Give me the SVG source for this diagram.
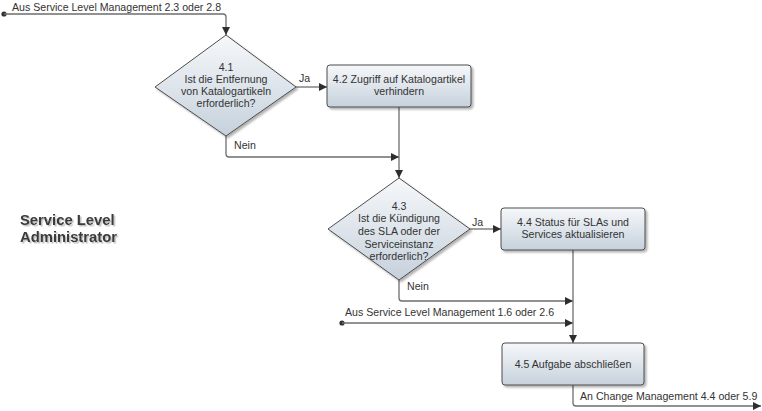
<svg xmlns="http://www.w3.org/2000/svg" width="762" height="411" viewBox="0 0 762 411">
<style>
text{font-family:"Liberation Sans",Arial,sans-serif;font-size:10.6px;fill:#333}
.c{text-anchor:middle}
.shape{stroke:#4d4d4d;stroke-width:1;fill:url(#g);filter:url(#sh);stroke-linejoin:round}
.ln{fill:none;stroke:#6e6e6e;stroke-width:1.3}
.arr{marker-end:url(#ah)}
.lane{font-size:14.8px;font-weight:bold;fill:#3a3a3a;filter:url(#tsh)}
</style>
<defs>
<linearGradient id="g" x1="0" y1="0" x2="0" y2="1">
<stop offset="0" stop-color="#f6f8fa"/>
<stop offset="1" stop-color="#c6d1dc"/>
</linearGradient>
<filter id="sh" x="-10%" y="-10%" width="125%" height="130%">
<feDropShadow dx="2" dy="2" stdDeviation="1.2" flood-color="#000" flood-opacity="0.3"/>
</filter>
<filter id="tsh" x="-5%" y="-20%" width="115%" height="150%">
<feDropShadow dx="1.5" dy="1.5" stdDeviation="0.6" flood-color="#000" flood-opacity="0.25"/>
</filter>
<marker id="ah" viewBox="0 0 10 10" refX="10" refY="5" markerWidth="9" markerHeight="8" markerUnits="userSpaceOnUse" orient="auto">
<path d="M0,0 L10,5 L0,10 Z" fill="#2e2e2e"/>
</marker>
</defs>
<rect width="762" height="411" fill="#fff"/>

<g id="lane">
<text class="lane" x="20" y="225">Service Level</text>
<text class="lane" x="20" y="242">Administrator</text>
</g>

<g id="connectors">
<circle cx="4" cy="14" r="2.6" fill="#333"/>
<path class="ln arr" d="M4,14 H223 Q226,14 226,17 V35"/>
<text x="12" y="11">Aus Service Level Management 2.3 oder 2.8</text>
<path class="ln arr" d="M296,87 H327"/>
<text x="299" y="82">Ja</text>
<path class="ln arr" d="M226,136 V154 Q226,157 229,157 H399"/>
<text x="234" y="149">Nein</text>
<path class="ln arr" d="M399,107 V178"/>
<path class="ln arr" d="M470,229 H501"/>
<text x="472" y="226">Ja</text>
<path class="ln arr" d="M399,280 V298 Q399,301 402,301 H573"/>
<text x="407" y="290">Nein</text>
<circle cx="342" cy="323" r="2.6" fill="#333"/>
<path class="ln arr" d="M342,323 H573"/>
<text x="345" y="316">Aus Service Level Management 1.6 oder 2.6</text>
<path class="ln arr" d="M573,250 V343"/>
<path class="ln arr" d="M573,385 V403 Q573,406 576,406 H761"/>
<text x="580" y="400">An Change Management 4.4 oder 5.9</text>
</g>

<g id="n41">
<polygon class="shape" points="226,35 296,87 226,136 155,87"/>
<text class="c" x="226" y="71">4.1</text>
<text class="c" x="226" y="83">Ist die Entfernung</text>
<text class="c" x="226" y="95">von Katalogartikeln</text>
<text class="c" x="226" y="107">erforderlich?</text>
</g>

<g id="n42">
<rect class="shape" x="327" y="65" width="144" height="42" rx="3"/>
<text class="c" x="399" y="83">4.2 Zugriff auf Katalogartikel</text>
<text class="c" x="399" y="95">verhindern</text>
</g>

<g id="n43">
<polygon class="shape" points="399,178 470,229 399,280 328,229"/>
<text class="c" x="399" y="210">4.3</text>
<text class="c" x="399" y="222">Ist die Kündigung</text>
<text class="c" x="399" y="235">des SLA oder der</text>
<text class="c" x="399" y="248">Serviceinstanz</text>
<text class="c" x="399" y="260">erforderlich?</text>
</g>

<g id="n44">
<rect class="shape" x="501" y="208" width="144" height="42" rx="3"/>
<text class="c" x="573" y="226">4.4 Status für SLAs und</text>
<text class="c" x="573" y="238">Services aktualisieren</text>
</g>

<g id="n45">
<rect class="shape" x="502" y="343" width="142" height="42" rx="3"/>
<text class="c" x="573" y="368">4.5 Aufgabe abschließen</text>
</g>
</svg>
